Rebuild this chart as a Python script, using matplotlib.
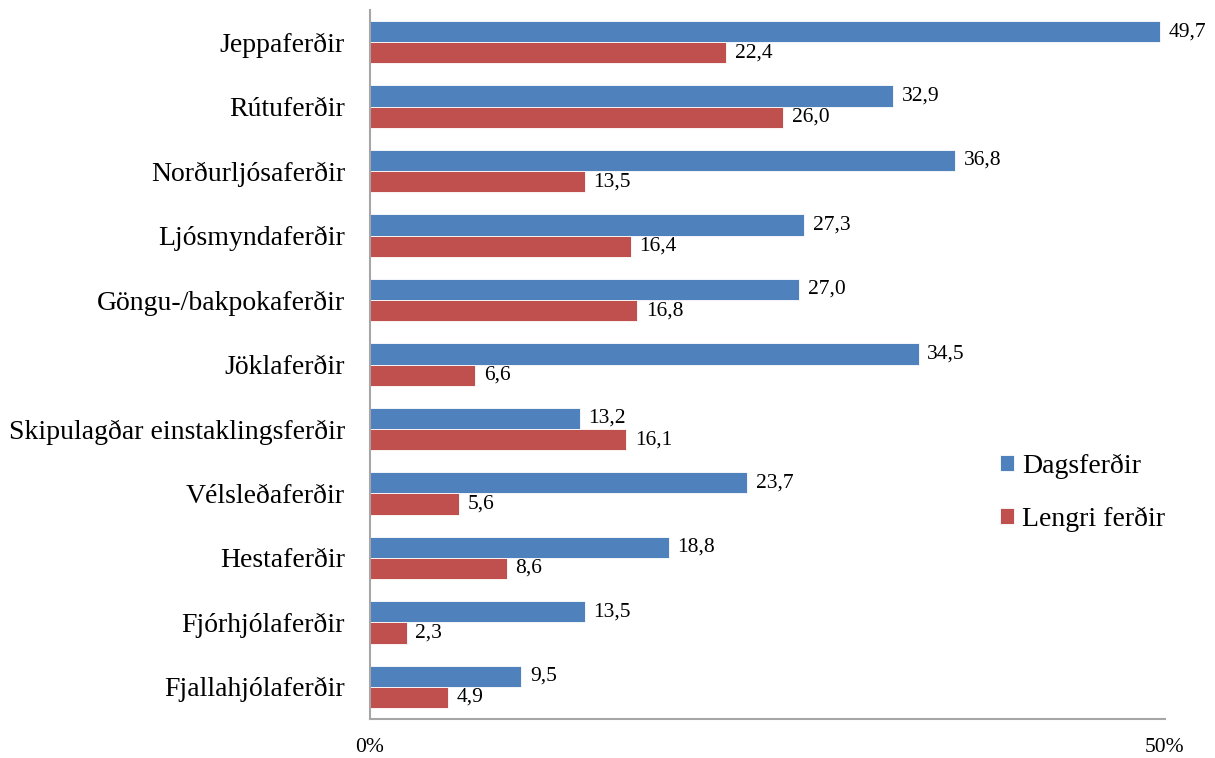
import matplotlib.pyplot as plt
import numpy as np

categories = ["Jeppaferðir", "Rútuferðir", "Norðurljósaferðir", "Ljósmyndaferðir",
              "Göngu-/bakpokaferðir", "Jöklaferðir", "Skipulagðar einstaklingsferðir",
              "Vélsleðaferðir", "Hestaferðir", "Fjórhjólaferðir", "Fjallahjólaferðir"]
dags = [49.7, 32.9, 36.8, 27.3, 27.0, 34.5, 13.2, 23.7, 18.8, 13.5, 9.5]
lengri = [22.4, 26.0, 13.5, 16.4, 16.8, 6.6, 16.1, 5.6, 8.6, 2.3, 4.9]
series_names = ["Dagsferðir", "Lengri ferðir"]
xticks = [0, 50]

plt.rcParams['font.family'] = ['Liberation Serif', 'DejaVu Serif']

fig = plt.figure(figsize=(12.15, 7.58), dpi=100)
ax = fig.add_axes([370/1215, 1 - 719/758, (1165-370)/1215, (719-10)/758])

y = np.arange(len(categories))
h = 0.33
b1 = ax.barh(y - h/2, dags, height=h, color="#4F81BD", edgecolor="white", linewidth=0.6,
             label=series_names[0])
b2 = ax.barh(y + h/2, lengri, height=h, color="#C0504D", edgecolor="white", linewidth=0.6,
             label=series_names[1])

fmt = lambda v: f"{v:.1f}".replace(".", ",")
for bars, vals in ((b1, dags), (b2, lengri)):
    for r, v in zip(bars, vals):
        ax.text(v + 0.55, r.get_y() + r.get_height()/2, fmt(v), va="center", ha="left",
                fontsize=15.5)

ax.set_ylim(len(categories) - 0.5, -0.5)
ax.set_xlim(0, 50)
ax.set_yticks(y)
ax.set_yticklabels(categories, fontsize=20)
ax.set_xticks(xticks)
ax.set_xticklabels([f"{t}%" for t in xticks], fontsize=15.5)
ax.tick_params(axis="both", length=0)
ax.tick_params(axis="x", pad=14)
ax.tick_params(axis="y", pad=18)
for s in ("top", "right"):
    ax.spines[s].set_visible(False)
for s in ("left", "bottom"):
    ax.spines[s].set_color("#A6A6A6")
    ax.spines[s].set_linewidth(1.5)

ax.legend(loc="center left", bbox_to_anchor=((1000 - 370) / 795, 0.3195), frameon=False,
          fontsize=20, handlelength=0.5, handleheight=0.5, handletextpad=0.3,
          labelspacing=1.0, borderaxespad=0, borderpad=0)

fig.savefig("out.png", dpi=100)
